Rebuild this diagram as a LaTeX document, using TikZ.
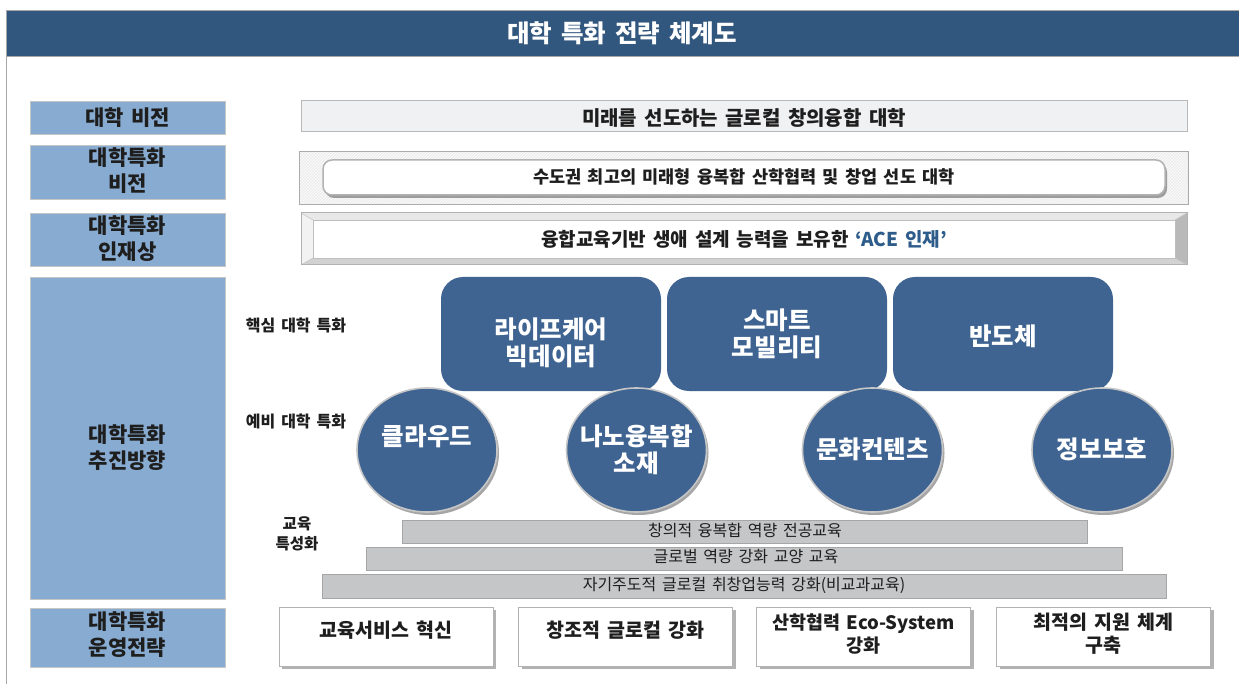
\documentclass[tikz,border=0pt]{standalone}
\usepackage{fontspec}
\setmainfont[WordSpace=1.6]{Noto Sans CJK KR}
\usetikzlibrary{patterns,shadows,shapes.geometric}
\definecolor{titlebar}{HTML}{32577E}
\definecolor{lblblue}{HTML}{88ACD1}
\definecolor{corebl}{HTML}{3F6492}
\definecolor{barg}{HTML}{C5C6C8}
\definecolor{vis}{HTML}{F0F1F3}
\definecolor{acecol}{HTML}{2E5C8A}
\definecolor{txt}{HTML}{1E1E1E}
\begin{document}
\begin{tikzpicture}[x=1pt,y=-1pt,
  lbl/.style={draw=gray!45, line width=0.8pt, fill=lblblue, minimum width=195, inner sep=0},
  lbltext/.style={text=txt, font=\bfseries\fontsize{21}{26}\selectfont, align=center, inner sep=0},
  corebox/.style={fill=corebl, rounded corners=22, minimum width=220, minimum height=114, inner sep=0},
  wtext/.style={text=white, font=\bfseries\fontsize{24.5}{27}\selectfont, align=center, inner sep=0},
  circ/.style={ellipse, fill=corebl, draw=gray!45, line width=1.6pt, minimum width=140, minimum height=124, inner sep=0,
    drop shadow={shadow xshift=2pt, shadow yshift=-3pt, opacity=0.35, fill=black}},
  sidetext/.style={text=txt, font=\bfseries\fontsize{16}{20}\selectfont, align=center, inner sep=0},
  gbar/.style={fill=barg, draw=gray!70, line width=0.8pt, minimum height=23, inner sep=0},
  gtext/.style={text=txt, font=\fontsize{16}{20}\selectfont, inner sep=0},
  opbox/.style={fill=white, draw=gray!60, line width=0.8pt, minimum width=214, minimum height=59, inner sep=0,
    drop shadow={shadow xshift=3pt, shadow yshift=-3pt, opacity=0.3, fill=black}},
  optext/.style={text=txt, font=\bfseries\fontsize{19.5}{23}\selectfont, align=center, inner sep=0},
  vtext/.style={text=txt, font=\bfseries\fontsize{19}{22}\selectfont, inner sep=0}
]
\useasboundingbox (0,0) rectangle (1239,684);
\fill[white] (0,0) rectangle (1239,684);

% frame and title
\draw[gray!70, line width=1pt] (6,684) -- (6,10);
\node[fill=titlebar, draw=gray!70, line width=1pt, minimum width=1240, minimum height=46, inner sep=0, anchor=north west] (title) at (6,10) {};
\node[text=white, font=\bfseries\fontsize{24.5}{28}\selectfont, inner sep=0] (titletext) at (622,33) {대학 특화 전략 체계도};

% left labels
\node[lbl, minimum height=33] (l1) at (127.5,117.5) {};
\node[lbltext] (l1t) at (127.5,118) {대학 비전};
\node[lbl, minimum height=54] (l2) at (127.5,172) {};
\node[lbltext] (l2t) at (127.5,171) {대학특화\\비전};
\node[lbl, minimum height=53] (l3) at (127.5,239.5) {};
\node[lbltext] (l3t) at (127.5,238.5) {대학특화\\인재상};
\node[lbl, minimum height=322] (l4) at (127.5,438) {};
\node[lbltext] (l4t) at (127.5,448) {대학특화\\추진방향};
\node[lbl, minimum height=59] (l5) at (127.5,637.5) {};
\node[lbltext] (l5t) at (127.5,635) {대학특화\\운영전략};

% vision 1
\node[fill=vis, draw=gray!55, line width=1pt, minimum width=886, minimum height=31, inner sep=0] (v1) at (744,116.5) {};
\node[vtext, font=\bfseries\fontsize{20}{22}\selectfont] (v1t) at (744,118) {미래를 선도하는 글로컬 창의융합 대학};

% vision 2 (hatched frame)
\node[fill=gray!14, draw=gray!65, line width=1pt, minimum width=889, minimum height=53, inner sep=0] (v2o) at (743.5,178.5) {};
\fill[pattern=north east lines, pattern color=white] (300,153) rectangle (1187,204);
\node[fill=white, draw=gray!60, line width=1.5pt, rounded corners=9, minimum width=842, minimum height=35, inner sep=0,
  drop shadow={shadow xshift=2pt, shadow yshift=-3pt, opacity=0.35, fill=black}] (v2i) at (744,177.5) {};
\node[vtext, font=\bfseries\fontsize{17.5}{22}\selectfont] (v2t) at (744,177) {수도권 최고의 미래형 융복합 산학협력 및 창업 선도 대학};

% vision 3 (bevel frame)
\fill[gray!18] (301,213) -- (1187,213) -- (1175,220) -- (313,220) -- cycle;
\fill[gray!10] (301,213) -- (313,220) -- (313,258) -- (301,265) -- cycle;
\fill[gray!35] (301,265) -- (1187,265) -- (1175,258) -- (313,258) -- cycle;
\fill[gray!55] (1187,213) -- (1187,265) -- (1175,258) -- (1175,220) -- cycle;
\draw[gray!45, line width=0.6pt] (301,213) -- (313,220) (1187,213) -- (1175,220) (301,265) -- (313,258) (1187,265) -- (1175,258);
\node[draw=gray!60, line width=1pt, minimum width=886, minimum height=52, inner sep=0] (v3o) at (744,239) {};
\node[fill=white, draw=gray!50, line width=0.6pt, minimum width=862, minimum height=38, inner sep=0] (v3i) at (744,239) {};
\node[vtext] (v3t) at (744,239) {융합교육기반 생애 설계 능력을 보유한 \textcolor{acecol}{‘ACE 인재’}};

% side labels
\node[sidetext] (s1) at (296,325) {핵심 대학 특화};
\node[sidetext] (s2) at (296,421) {예비 대학 특화};
\node[sidetext, font=\bfseries\fontsize{15.5}{20}\selectfont] (s3) at (297,534) {교육\\특성화};

% core boxes
\node[corebox] (c1) at (551,334) {};
\node[wtext] (c1t) at (551,343) {라이프케어\\빅데이터};
\node[corebox] (c2) at (777,334) {};
\node[wtext] (c2t) at (777,334) {스마트\\모빌리티};
\node[corebox] (c3) at (1003,334) {};
\node[wtext] (c3t) at (1003,336) {반도체};

% circles
\node[circ] (e1) at (427,450) {};
\node[wtext] (e1t) at (427,436) {클라우드};
\node[circ] (e2) at (636.5,450) {};
\node[wtext] (e2t) at (636.5,450) {나노융복합\\소재};
\node[circ] (e3) at (872.5,450) {};
\node[wtext] (e3t) at (872.5,449) {문화컨텐츠};
\node[circ] (e4) at (1102,450) {};
\node[wtext] (e4t) at (1102,449) {정보보호};

% education bars
\node[gbar, minimum width=685] (b1) at (744.5,531.5) {};
\node[gtext] (b1t) at (745,530) {창의적 융복합 역량 전공교육};
\node[gbar, minimum width=756] (b2) at (744,558.5) {};
\node[gtext] (b2t) at (746,557) {글로벌 역량 강화 교양 교육};
\node[gbar, minimum width=844, minimum height=24] (b3) at (744,586) {};
\node[gtext] (b3t) at (744,585) {자기주도적 글로컬 취창업능력 강화(비교과교육)};

% operation boxes
\node[opbox] (o1) at (386,636.5) {};
\node[optext] (o1t) at (386,630) {교육서비스 혁신};
\node[opbox] (o2) at (625.5,636.5) {};
\node[optext] (o2t) at (625.5,630) {창조적 글로컬 강화};
\node[opbox] (o3) at (863.5,636.5) {};
\node[optext, font=\bfseries\fontsize{18.5}{23}\selectfont] (o3t) at (863.5,634) {산학협력 Eco-System\\강화};
\node[opbox] (o4) at (1103.5,636.5) {};
\node[optext] (o4t) at (1103.5,634) {최적의 지원 체계\\구축};
\end{tikzpicture}
\end{document}
